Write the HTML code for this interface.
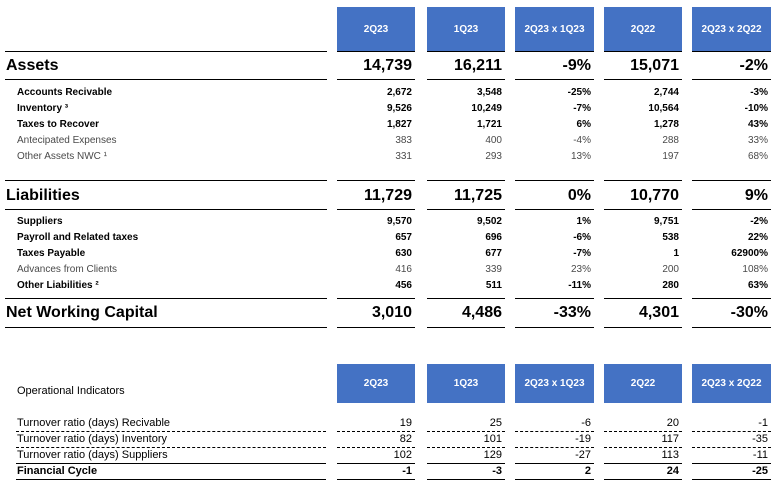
<!DOCTYPE html>
<html><head><meta charset="utf-8">
<style>
body{margin:0;width:773px;height:483px;background:#fff;position:relative;overflow:hidden;font-family:"Liberation Sans",sans-serif;color:#000}
.a{position:absolute;white-space:nowrap}
.hb{position:absolute;background:#4472c4;color:#fff;font-size:10px;font-weight:bold;display:flex;align-items:center;justify-content:center}
.ln{position:absolute;height:0;border-top:1.5px solid #000}
.dl{position:absolute;height:0;border-top:1px dashed #000}
.t{font-size:10px;line-height:14px}
.o{font-size:11px;line-height:14px}
.b{font-weight:bold}
.g{color:#4a4a4a}
.big{font-size:16px;font-weight:bold;line-height:20px}
</style></head><body>
<script>
const cols=[[337,415],[427,505],[515,594],[604,682],[692,771]];
const headers=["2Q23","1Q23","2Q23 x 1Q23","2Q22","2Q23 x 2Q22"];
const rows=[
 {l:"Assets",y:66,big:1,v:["14,739","16,211","-9%","15,071","-2%"]},
 {l:"Accounts Recivable",y:93,b:1,v:["2,672","3,548","-25%","2,744","-3%"]},
 {l:"Inventory ³",y:109,b:1,v:["9,526","10,249","-7%","10,564","-10%"]},
 {l:"Taxes to Recover",y:125,b:1,v:["1,827","1,721","6%","1,278","43%"]},
 {l:"Antecipated Expenses",y:141,v:["383","400","-4%","288","33%"]},
 {l:"Other Assets NWC ¹",y:157,v:["331","293","13%","197","68%"]},
 {l:"Liabilities",y:196,big:1,v:["11,729","11,725","0%","10,770","9%"]},
 {l:"Suppliers",y:222,b:1,v:["9,570","9,502","1%","9,751","-2%"]},
 {l:"Payroll and Related taxes",y:238,b:1,v:["657","696","-6%","538","22%"]},
 {l:"Taxes Payable",y:254,b:1,v:["630","677","-7%","1","62900%"]},
 {l:"Advances from Clients",y:270,v:["416","339","23%","200","108%"]},
 {l:"Other Liabilities ²",y:286,b:1,v:["456","511","-11%","280","63%"]},
 {l:"Net Working Capital",y:313,big:1,v:["3,010","4,486","-33%","4,301","-30%"]}
];
const rules=[51,79,180,209,298,327];
const ops=[
 {l:"Turnover ratio (days) Recivable",y:424,d:1,v:["19","25","-6","20","-1"]},
 {l:"Turnover ratio (days) Inventory",y:440,d:1,v:["82","101","-19","117","-35"]},
 {l:"Turnover ratio (days) Suppliers",y:456,v:["102","129","-27","113","-11"]},
 {l:"Financial Cycle",y:472,b:1,v:["-1","-3","2","24","-25"]}
];
function mk(cls,style,txt){const e=document.createElement('div');e.className=cls;Object.assign(e.style,style);if(txt!==undefined)e.textContent=txt;document.body.appendChild(e);return e;}
function headerRow(top,h){
 headers.forEach((t,i)=>{const e=mk('hb',{left:cols[i][0]+'px',top:top+'px',width:(cols[i][1]-cols[i][0])+'px',height:h+'px'},t);
 
 });
}
headerRow(7,44);
rules.forEach(y=>{
 const e=mk('ln',{left:'5px',top:y+'px',width:'322px'});
 
 
 cols.forEach(c=>{const f=mk('ln',{left:c[0]+'px',top:y+'px',width:(c[1]-c[0])+'px'});
 
 });
});
rows.forEach(r=>{
 const cls=r.big?'a big':('a t'+(r.b?' b':' g'));
 const h=r.big?20:14;
 const lab=mk(cls,{left:(r.big?6:17)+'px',top:(r.y-h/2)+'px'},r.l);
 
 
 r.v.forEach((v,i)=>{const e=mk(cls,{right:(773-cols[i][1]+3)+'px',top:(r.y-h/2)+'px'},v);
 
 });
});
const oh=mk('a',{left:'17px',top:'385px',fontSize:'11px'},'Operational Indicators');


headerRow(364,39);
ops.forEach(r=>{
 const cls='a o'+(r.b?' b':'');
 const lab=mk(cls,{left:'17px',top:(r.y-8)+'px'},r.l);
 
 
 const lc=r.d?'dl':'ln';
 const bw=r.d?{borderTopWidth:'1px',borderTopStyle:'dashed'}:{borderTopWidth:'1.5px'};
 const l1=mk(lc,Object.assign({left:'16px',top:(r.y+7)+'px',width:'310px'},bw));
 
 
 r.v.forEach((v,i)=>{const e=mk(cls,{right:(773-cols[i][1]+3)+'px',top:(r.y-8)+'px'},v);
 
 
 const l=mk(lc,Object.assign({left:cols[i][0]+'px',top:(r.y+7)+'px',width:(cols[i][1]-cols[i][0])+'px'},bw));
 
 });
});
</script>
</body></html>
